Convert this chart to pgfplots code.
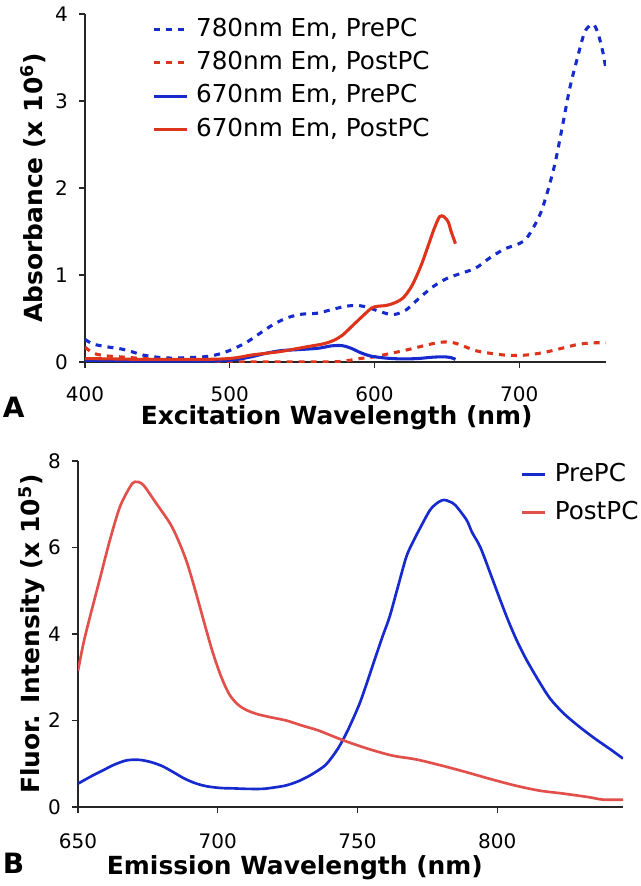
\documentclass[border=0pt]{standalone}
\usepackage{pgfplots}
\pgfplotsset{compat=1.18}
\usepackage{fontspec}
\setmainfont{DejaVu Sans}
\definecolor{cblue}{RGB}{22,42,205}
\definecolor{cred}{RGB}{222,52,28}
\definecolor{cpink}{RGB}{226,80,76}
\pgfplotsset{
 myaxis/.style={
  scale only axis, axis x line=bottom, axis y line=left,
  axis line style={-, line width=0.8pt, black!85},
  tick align=outside, major tick length=4.5pt, tick style={line width=0.8pt, black!85},
  /pgf/number format/assume math mode=true,
  ticklabel style={font=\fontsize{15}{18}\selectfont, inner sep=0pt},
  xticklabel style={anchor=north, yshift=-15.5pt},
  yticklabel style={anchor=east, xshift=-8.25pt},
  label style={font=\bfseries\fontsize{18.7}{22}\selectfont, inner sep=0pt},
  legend cell align=left,
 },
}
\begin{document}
\begin{tikzpicture}
\path[use as bounding box] (0,0) rectangle (480.75pt,-664.5pt);
% ---------- Panel A ----------
\begin{axis}[myaxis, at={(63.75pt,-271.5pt)}, anchor=south west,
  width=390.75pt, height=261pt,
  xmin=400, xmax=760, ymin=0, ymax=4,
  xtick={400,500,600,700}, ytick={0,1,2,3,4},
  xticklabel style={yshift=2pt},
  xlabel={Excitation Wavelength (nm)},
  ylabel={Absorbance (x 10\textsuperscript{6})},
  xlabel style={at={(axis description cs:0.483,-0.18)}, anchor=base},
  ylabel style={at={(axis description cs:-0.0998,0.5)}, anchor=center},
  legend image code/.code={\draw[#1] (0pt,0pt) -- (24.75pt,0pt);},
  legend style={draw=none, fill=none, inner sep=0pt, outer sep=0pt,
    at={(axis description cs:0.1286,0.988)}, anchor=north west,
    row sep=8pt, column sep=6pt, font=\fontsize{18.5}{22}\selectfont,
    nodes={inner sep=0pt, text height=13.5pt, text depth=3.5pt}},
]
\addplot[cblue, line width=2.3pt, dash pattern=on 4.5pt off 4.5pt, smooth] coordinates {
(400,0.26)(405,0.21)(410,0.19)(417,0.17)(425,0.15)(432,0.12)(440,0.08)(450,0.055)(460,0.045)(470,0.05)(482,0.06)(490,0.08)(498,0.12)(505,0.17)(512,0.23)(520,0.32)(530,0.43)(540,0.51)(550,0.55)(560,0.56)(570,0.60)(580,0.64)(588,0.65)(595,0.63)(602,0.59)(610,0.55)(615,0.55)(622,0.60)(630,0.72)(640,0.86)(650,0.96)(660,1.02)(670,1.08)(680,1.20)(690,1.30)(700,1.36)(705,1.42)(710,1.55)(715,1.72)(720,1.98)(725,2.30)(730,2.72)(735,3.15)(740,3.48)(745,3.78)(749,3.87)(752,3.87)(755,3.75)(758,3.55)(760,3.36)};
\addlegendentry{780nm Em, PrePC}
\addplot[cred, line width=2.3pt, dash pattern=on 4.5pt off 4.5pt, smooth] coordinates {
(400,0.17)(404,0.12)(408,0.09)(415,0.07)(424,0.06)(432,0.05)(440,0.04)(450,0.03)(460,0.025)(470,0.02)(480,0.015)(490,0.01)(500,0.005)(510,0.0)(520,0.0)(540,0.0)(560,0.0)(575,0.005)(583,0.02)(590,0.04)(600,0.06)(610,0.095)(620,0.13)(630,0.17)(640,0.21)(648,0.23)(655,0.22)(662,0.18)(670,0.13)(680,0.10)(690,0.08)(700,0.075)(710,0.09)(720,0.12)(730,0.16)(740,0.20)(750,0.22)(760,0.22)};
\addlegendentry{780nm Em, PostPC}
\addplot[cblue, line width=2.3pt, smooth] coordinates {
(400,0.02)(420,0.015)(440,0.01)(460,0.01)(480,0.01)(495,0.015)(505,0.03)(515,0.06)(525,0.10)(535,0.13)(545,0.14)(555,0.15)(562,0.16)(570,0.185)(576,0.19)(580,0.18)(585,0.15)(590,0.11)(597,0.07)(605,0.05)(612,0.04)(620,0.035)(630,0.04)(640,0.055)(648,0.06)(653,0.05)(656,0.03)};
\addlegendentry{670nm Em, PrePC}
\addplot[cred, line width=2.3pt, smooth] coordinates {
(400,0.04)(420,0.035)(440,0.03)(460,0.03)(480,0.03)(495,0.035)(505,0.05)(515,0.08)(525,0.10)(535,0.12)(545,0.15)(555,0.18)(565,0.21)(572,0.25)(578,0.31)(585,0.42)(592,0.53)(598,0.62)(602,0.64)(608,0.65)(614,0.68)(620,0.74)(626,0.88)(632,1.10)(637,1.33)(641,1.52)(645,1.67)(648,1.67)(651,1.61)(653,1.50)(656,1.36)};
\addlegendentry{670nm Em, PostPC}
\end{axis}
% ---------- Panel B ----------
\begin{axis}[myaxis, at={(58.5pt,-605.25pt)}, anchor=south west,
  width=408.75pt, height=259.5pt,
  xmin=650, xmax=845, ymin=0, ymax=8,
  xtick={650,700,750,800}, ytick={0,2,4,6,8},
  xlabel={Emission Wavelength (nm)},
  ylabel={Fluor. Intensity (x 10\textsuperscript{5})},
  xlabel style={at={(axis description cs:0.398,-0.196)}, anchor=base},
  ylabel style={at={(axis description cs:-0.0844,0.5)}, anchor=center},
  legend image code/.code={\draw[#1] (0pt,0pt) -- (17.25pt,0pt);},
  legend style={draw=none, fill=none, inner sep=0pt, outer sep=0pt,
    at={(axis description cs:0.813,0.994)}, anchor=north west,
    row sep=11.5pt, column sep=6pt, font=\fontsize{18.5}{22}\selectfont,
    nodes={inner sep=0pt, text height=13.5pt, text depth=3.5pt}},
]
\addplot[cblue, line width=2pt, smooth] coordinates {
(650,0.54)(655,0.72)(659,0.85)(663,0.98)(667.5,1.08)(672,1.09)(676,1.04)(680,0.95)(684,0.81)(688,0.66)(692,0.55)(696,0.48)(701,0.44)(706,0.43)(710,0.42)(716,0.42)(720,0.45)(724.5,0.50)(729,0.60)(733,0.73)(736,0.85)(739,1.00)(743,1.35)(746.5,1.77)(750.5,2.35)(753,2.80)(756,3.38)(759,3.95)(761.5,4.40)(764.5,5.10)(767.5,5.79)(770,6.15)(772,6.40)(776,6.87)(779,7.05)(781,7.10)(783,7.06)(785,6.98)(789,6.64)(791,6.35)(794,6.00)(798,5.32)(801,4.80)(804,4.30)(807,3.85)(810.5,3.40)(815,2.90)(819,2.50)(824,2.15)(829.5,1.85)(835,1.58)(841,1.31)(845,1.12)};
\addlegendentry{PrePC}
\addplot[cpink, line width=2pt, smooth] coordinates {
(650,3.15)(652,3.80)(654.3,4.40)(658,5.32)(661.4,6.17)(665,6.94)(668.6,7.40)(670.4,7.52)(673.3,7.45)(678,7.02)(683,6.55)(686,6.15)(689,5.65)(692,5.00)(695,4.30)(698,3.62)(701,3.05)(704,2.62)(707,2.38)(710,2.25)(714,2.15)(718.6,2.08)(724.5,2.00)(730.3,1.88)(736,1.77)(745,1.54)(753.6,1.35)(762.4,1.19)(771,1.10)(780,0.96)(788.7,0.81)(797.4,0.65)(806.2,0.50)(815,0.38)(823.7,0.31)(832.5,0.23)(838,0.17)(845,0.17)};
\addlegendentry{PostPC}
\end{axis}
\node[anchor=base west, font=\bfseries\fontsize{21}{25}\selectfont, inner sep=0pt] at (2pt,-312.75pt) {A};
\node[anchor=base west, font=\bfseries\fontsize{21}{25}\selectfont, inner sep=0pt] at (2pt,-654.75pt) {B};
\end{tikzpicture}
\end{document}
